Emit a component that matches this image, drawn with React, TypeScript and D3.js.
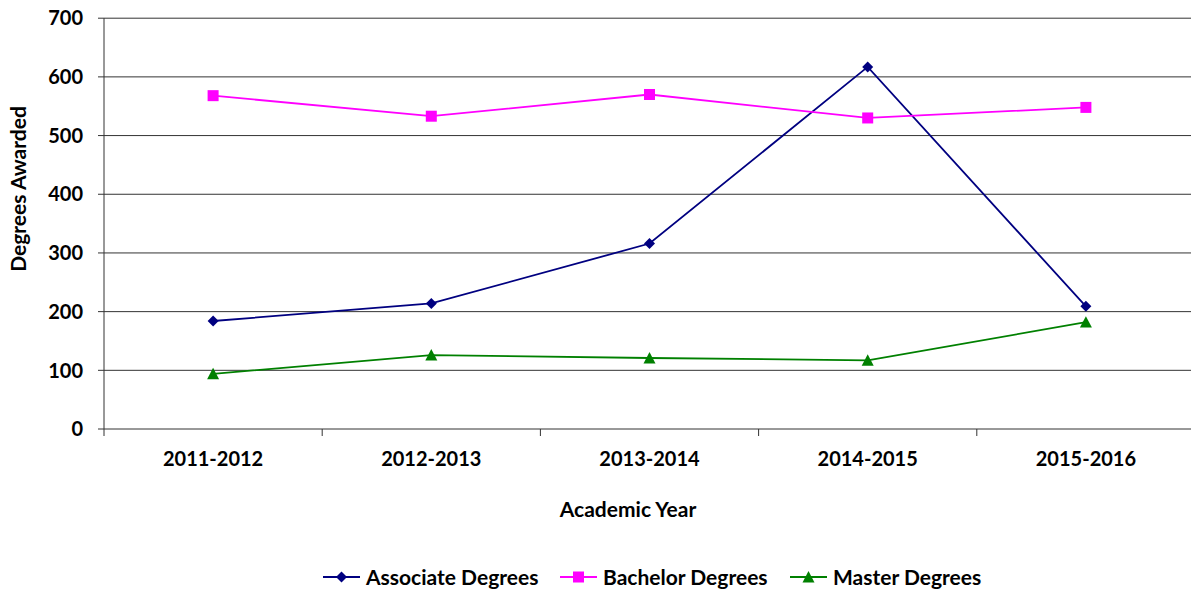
import React from "react";
import * as d3 from "d3";

const years = ["2011-2012", "2012-2013", "2013-2014", "2014-2015", "2015-2016"];
const associate = [184, 214, 316, 617, 209];
const bachelor = [568, 533, 570, 530, 548];
const master = [94, 126, 121, 117, 182];
const yTicks = [0, 100, 200, 300, 400, 500, 600, 700];

const seriesNames = ["Associate Degrees", "Bachelor Degrees", "Master Degrees"];
const seriesColors = ["#000080", "#FF00FF", "#008000"];
const seriesShapes = ["diamond", "square", "triangle"];

const FONT = "Lato, 'Open Sans', sans-serif";

function Marker({ shape, x, y, color }: { shape: string; x: number; y: number; color: string }) {
  if (shape === "diamond") {
    const s = 5.5;
    return <path d={`M${x},${y - s}L${x + s},${y}L${x},${y + s}L${x - s},${y}Z`} fill={color} />;
  }
  if (shape === "square") {
    const s = 5.5;
    return <rect x={x - s} y={y - s} width={2 * s} height={2 * s} fill={color} />;
  }
  const s = 6;
  return <path d={`M${x},${y - s}L${x + s},${y + s * 0.9}L${x - s},${y + s * 0.9}Z`} fill={color} />;
}

export default function App() {
  const W = 1191, H = 590;
  const left = 104, right = 1195, top = 18.2, bottom = 429;
  const x = d3.scaleBand<string>().domain(years).range([left, right]).padding(0);
  const y = d3.scaleLinear().domain([0, 700]).range([bottom, top]);
  const cx = (c: string) => (x(c) as number) + x.bandwidth() / 2;
  const data = [associate, bachelor, master];
  const line = d3
    .line<number>()
    .x((_, i) => cx(years[i]))
    .y((v) => y(v));

  const legendItems = [
    { lx: 323, tx: 366 },
    { lx: 560, tx: 603 },
    { lx: 790, tx: 833 },
  ];

  return (
    <svg width={W} height={H} style={{ position: "absolute", left: 0, top: 0, background: "#fff" }} fontFamily={FONT}>
      <rect x={0} y={0} width={W} height={H} fill="#fff" />
      {yTicks.map((t) => (
        <g key={t}>
          <line x1={left - 6} x2={W} y1={y(t)} y2={y(t)} stroke="#333" strokeWidth={1} />
          <text x={83} y={y(t)} dy="0.36em" textAnchor="end" fontSize={20} fontWeight="bold" fill="#000">
            {t}
          </text>
        </g>
      ))}
      <line x1={left} x2={left} y1={top} y2={bottom + 7} stroke="#333" strokeWidth={1} />
      {years.map((c, i) => (
        <g key={c}>
          {i > 0 && <line x1={x(c)} x2={x(c)} y1={bottom} y2={bottom + 7} stroke="#333" strokeWidth={1} />}
          <text x={cx(c)} y={459} dy="0.36em" textAnchor="middle" fontSize={20} fontWeight="bold" fill="#000">
            {c}
          </text>
        </g>
      ))}
      <text x={628} y={509} dy="0.36em" textAnchor="middle" fontSize={21} fontWeight="bold" fill="#000">
        Academic Year
      </text>
      <text
        transform={`translate(18,189) rotate(-90)`}
        dy="0.36em"
        textAnchor="middle"
        fontSize={21}
        fontWeight="bold"
        fill="#000"
      >
        Degrees Awarded
      </text>
      {data.map((vals, si) => (
        <g key={si}>
          <path d={line(vals) || ""} fill="none" stroke={seriesColors[si]} strokeWidth={1.8} />
          {vals.map((v, i) => (
            <Marker key={i} shape={seriesShapes[si]} x={cx(years[i])} y={y(v)} color={seriesColors[si]} />
          ))}
        </g>
      ))}
      {seriesNames.map((n, si) => {
        const it = legendItems[si];
        const ly = 577;
        return (
          <g key={n}>
            <line x1={it.lx} x2={it.lx + 37} y1={ly} y2={ly} stroke={seriesColors[si]} strokeWidth={1.8} />
            <Marker shape={seriesShapes[si]} x={it.lx + 18.5} y={ly} color={seriesColors[si]} />
            <text x={it.tx} y={ly} dy="0.36em" fontSize={21} fontWeight="bold" fill="#000">
              {n}
            </text>
          </g>
        );
      })}
    </svg>
  );
}
